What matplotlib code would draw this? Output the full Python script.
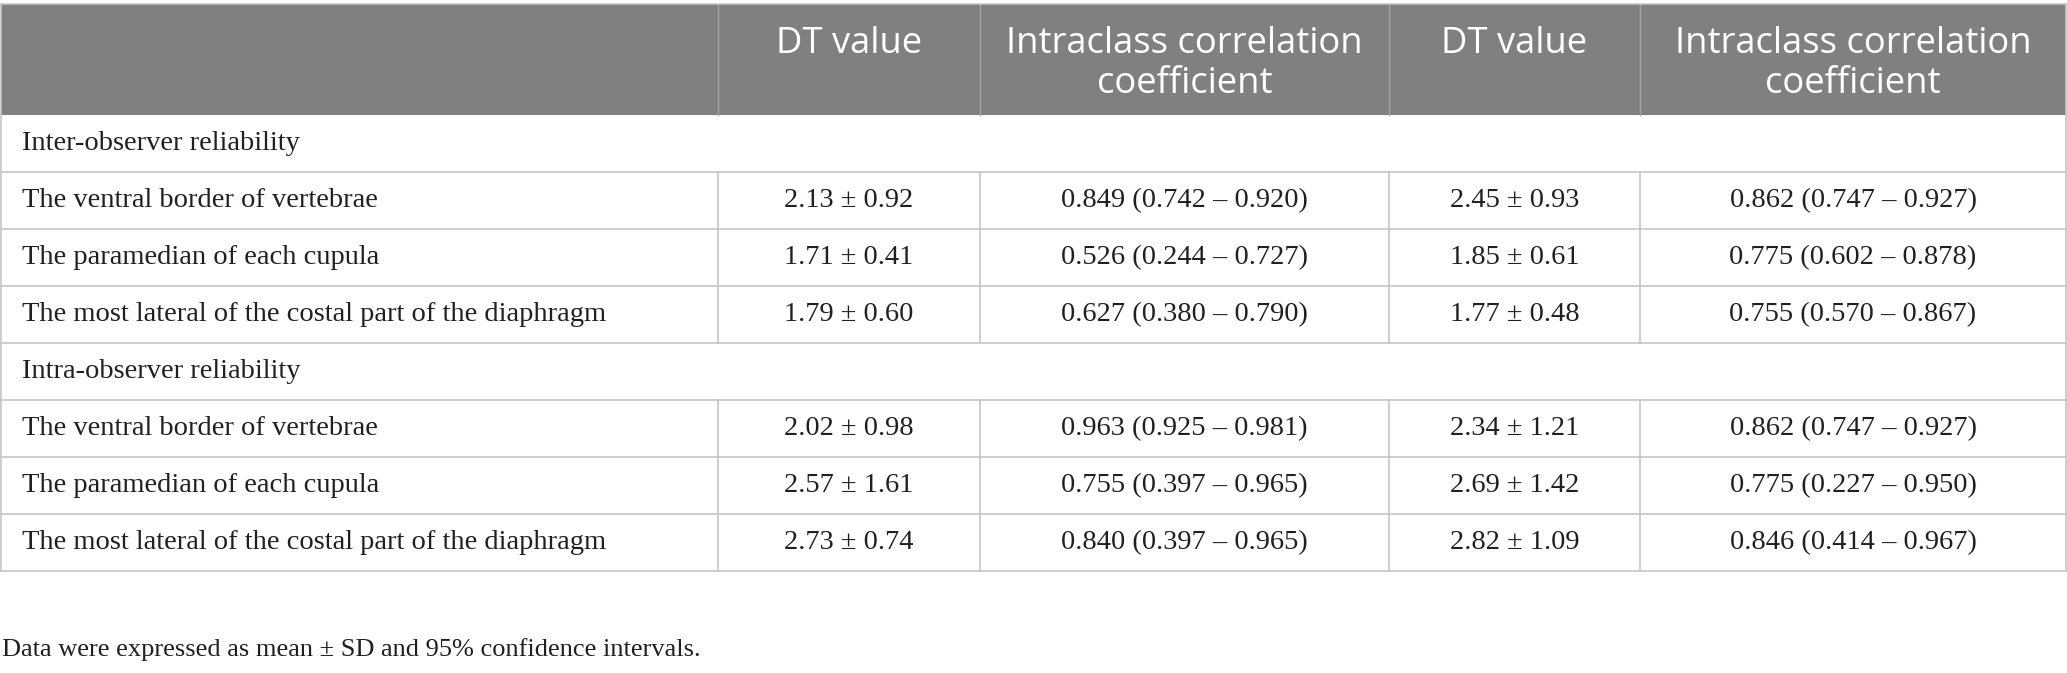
#!/usr/bin/env python3
"""Reliability table: DT values and intraclass correlation coefficients."""

import matplotlib

matplotlib.use("Agg")
import matplotlib.pyplot as plt
from matplotlib.patches import Rectangle

# ---- data -------------------------------------------------------------
header_labels = ["", "DT value", "Intraclass correlation\ncoefficient",
                 "DT value", "Intraclass correlation\ncoefficient"]
section_labels = ["Inter-observer reliability", "Intra-observer reliability"]
site_labels = [
    "The ventral border of vertebrae",
    "The paramedian of each cupula",
    "The most lateral of the costal part of the diaphragm",
]

inter_dt1_mean = [2.13, 1.71, 1.79]
inter_dt1_sd = [0.92, 0.41, 0.60]
inter_icc1 = [(0.849, 0.742, 0.920), (0.526, 0.244, 0.727), (0.627, 0.380, 0.790)]
inter_dt2_mean = [2.45, 1.85, 1.77]
inter_dt2_sd = [0.93, 0.61, 0.48]
inter_icc2 = [(0.862, 0.747, 0.927), (0.775, 0.602, 0.878), (0.755, 0.570, 0.867)]

intra_dt1_mean = [2.02, 2.57, 2.73]
intra_dt1_sd = [0.98, 1.61, 0.74]
intra_icc1 = [(0.963, 0.925, 0.981), (0.755, 0.397, 0.965), (0.840, 0.397, 0.965)]
intra_dt2_mean = [2.34, 2.69, 2.82]
intra_dt2_sd = [1.21, 1.42, 1.09]
intra_icc2 = [(0.862, 0.747, 0.927), (0.775, 0.227, 0.950), (0.846, 0.414, 0.967)]

footnote = "Data were expressed as mean ± SD and 95% confidence intervals."

# ---- layout (pixels) ----------------------------------------------------
W, H = 2067, 673
col_edges = [0.5, 718, 980, 1389, 1640, 2066]
table_top = 4
header_h = 111
header_baseline = 53
header_line_gap = 40
row_h = 57
text_pad = 22

HEADER_BG = "#7f807f"
HEADER_SEP = "#a3a4a3"
GRID = "#c6c6c6"
TEXT = "#231f20"

serif = ["Liberation Serif", "DejaVu Serif"]
sans = ["Open Sans", "DejaVu Sans"]


def dt(m, s):
    return f"{m:.2f} ± {s:.2f}"


def icc(t):
    return f"{t[0]:.3f} ({t[1]:.3f} – {t[2]:.3f})"


def block(dt1m, dt1s, ic1, dt2m, dt2s, ic2):
    return [
        [site_labels[i], dt(dt1m[i], dt1s[i]), icc(ic1[i]), dt(dt2m[i], dt2s[i]), icc(ic2[i])]
        for i in range(len(site_labels))
    ]


rows = [("section", section_labels[0])]
rows += [("data", r) for r in block(inter_dt1_mean, inter_dt1_sd, inter_icc1,
                                    inter_dt2_mean, inter_dt2_sd, inter_icc2)]
rows += [("section", section_labels[1])]
rows += [("data", r) for r in block(intra_dt1_mean, intra_dt1_sd, intra_icc1,
                                    intra_dt2_mean, intra_dt2_sd, intra_icc2)]

fig = plt.figure(figsize=(W / 100, H / 100), dpi=100)
ax = fig.add_axes([0, 0, 1, 1])
ax.set_xlim(0, W)
ax.set_ylim(H, 0)
ax.axis("off")

# header
header_bottom = table_top + header_h
ax.add_patch(Rectangle((col_edges[0], table_top), col_edges[-1] - col_edges[0], header_h,
                       facecolor=HEADER_BG, edgecolor="none"))
for x in col_edges[1:-1]:
    ax.plot([x, x], [table_top, header_bottom], color=HEADER_SEP, lw=1.0)
for j, lab in enumerate(header_labels):
    if not lab:
        continue
    cx = (col_edges[j] + col_edges[j + 1]) / 2
    for k, line in enumerate(lab.split("\n")):
        ax.text(cx, header_baseline + k * header_line_gap, line, ha="center",
                va="baseline", color="white", fontsize=26.2, family=sans)

# body
y = header_bottom
for kind, content in rows:
    cy = y + row_h / 2
    if kind == "section":
        ax.text(col_edges[0] + text_pad, cy, content, ha="left", va="center",
                color=TEXT, fontsize=20.5, family=serif)
    else:
        for j, val in enumerate(content):
            if j == 0:
                ax.text(col_edges[0] + text_pad, cy, val, ha="left", va="center",
                        color=TEXT, fontsize=20.5, family=serif)
            else:
                cx = (col_edges[j] + col_edges[j + 1]) / 2
                ax.text(cx, cy, val, ha="center", va="center",
                        color=TEXT, fontsize=20.5, family=serif)
        for x in col_edges[1:-1]:
            ax.plot([x, x], [y, y + row_h], color=GRID, lw=1.2)
    y += row_h
    ax.plot([col_edges[0], col_edges[-1]], [y, y], color=GRID, lw=1.2)

table_bottom = y
# outer border
ax.plot([col_edges[0], col_edges[-1]], [table_top, table_top], color=GRID, lw=1.2)
ax.plot([col_edges[0], col_edges[0]], [table_top, table_bottom], color=GRID, lw=1.2)
ax.plot([col_edges[-1], col_edges[-1]], [table_top, table_bottom], color=GRID, lw=1.2)

ax.text(2, 650, footnote, ha="left", va="center", color=TEXT,
        fontsize=19, family=serif)

fig.savefig("out.png", dpi=100)
